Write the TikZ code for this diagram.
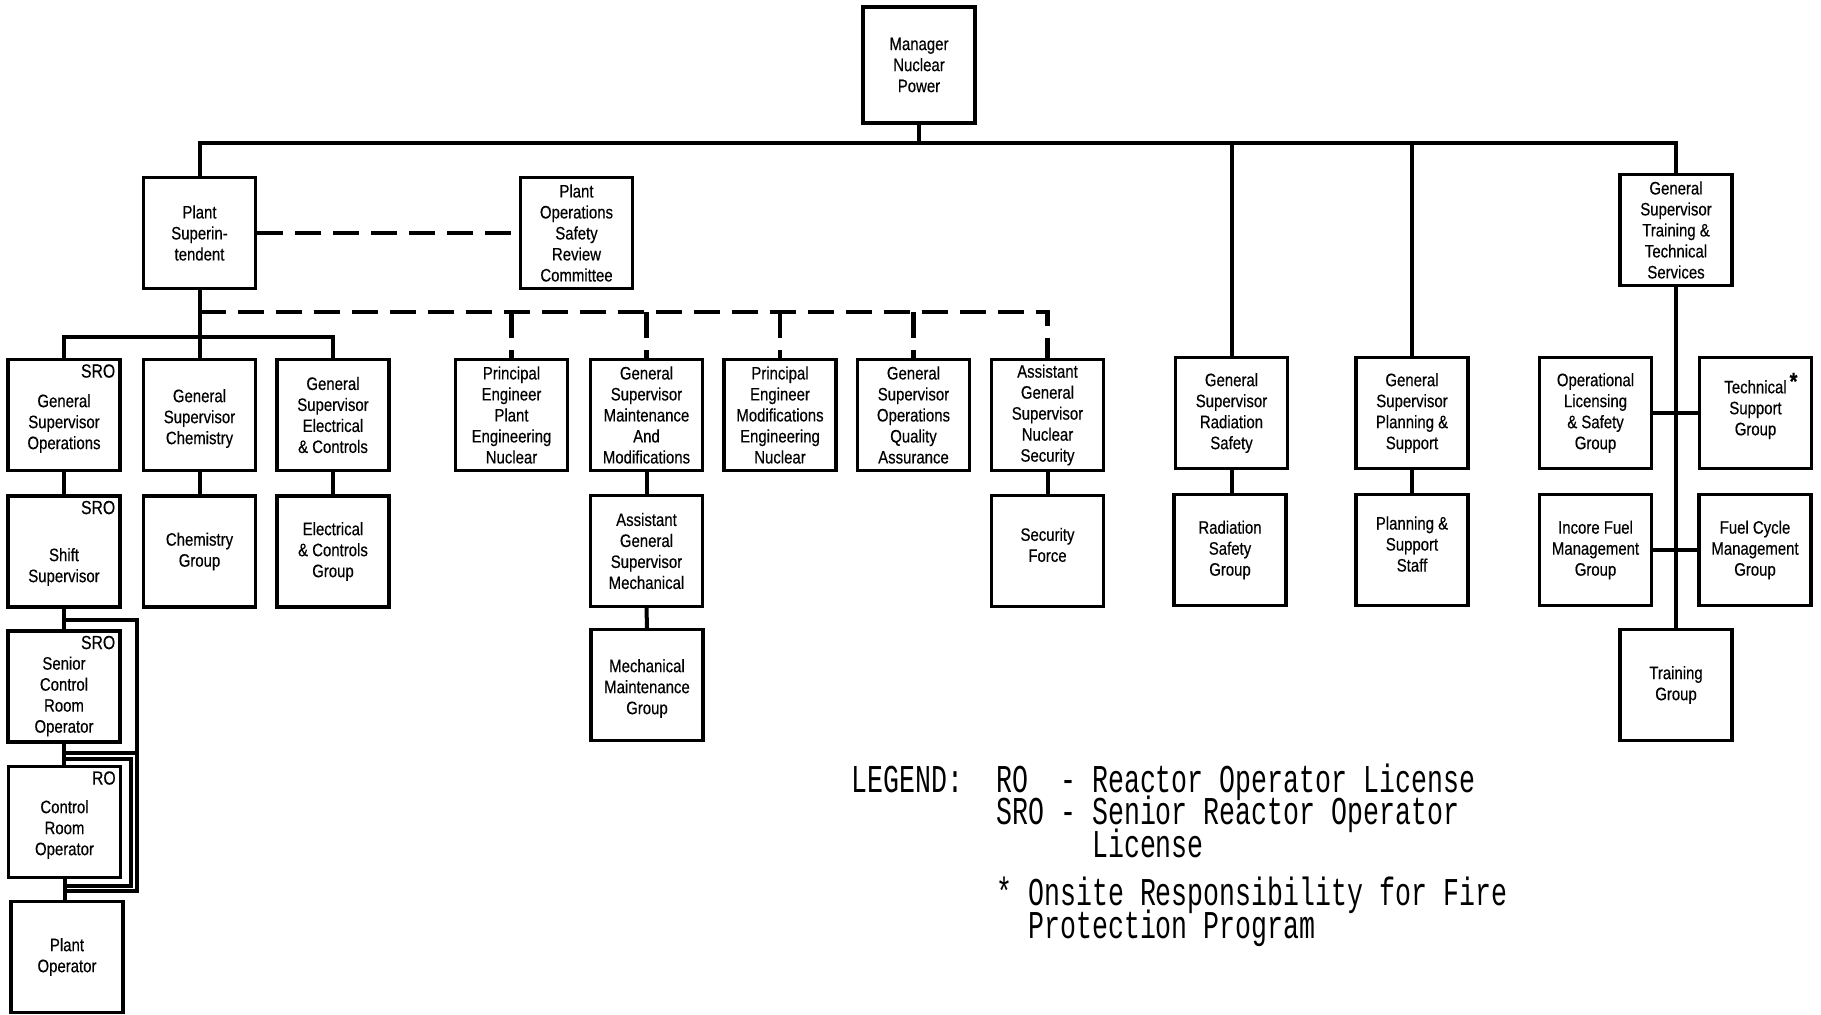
\documentclass[tikz,border=0pt]{standalone}
\usepackage{fontspec}
\setmainfont{Liberation Sans}
\newfontfamily\boxfont[FakeStretch=0.83,FakeBold=0.4]{Liberation Sans}
\newfontfamily\legendfont[FakeStretch=0.675,WordSpace={1,0,0}]{Liberation Mono}
\newcommand\lgdfont{\legendfont\fontsize{19.7}{16.25}\selectfont\lineskiplimit=-30pt\relax}

\begin{document}
\begin{tikzpicture}[x=0.5pt, y=-0.5pt]
	\tikzstyle{Box} = [rectangle, minimum width=56pt, minimum height=55.5pt, inner sep=1pt, align=center, draw=black, line width=1.6pt, font=\boxfont\fontsize{9}{10.5}\selectfont]
	\tikzstyle{Lic} = [anchor=north east, inner sep=3pt, font=\boxfont\fontsize{9.5}{10}\selectfont]
	\tikzstyle{solidlink} = [line width=2pt, black]
	\tikzstyle{dashlink} = [line width=2.4pt, black, dash pattern=on 13pt off 6pt]
	\tikzstyle{Legend} = [anchor=base west, inner sep=0pt, align=left, font=\lgdfont]

	\useasboundingbox (0,0) rectangle (1821,1014);

	% top
	\node (mgr) [Box, minimum height=58pt] at (919,65) {Manager\\Nuclear\\Power};
	\node (ps) [Box] at (199.5,233) {Plant\\Superin-\\tendent};
	\node (posrc) [Box] at (576.5,233) {Plant\\Operations\\Safety\\Review\\Committee};
	\node (gst) [Box] at (1676,230) {General\\Supervisor\\Training \&\\Technical\\Services};

	% operations side
	\node (gso) [Box, label={[Lic]north east:SRO}] at (64,415) {\mbox{}\\[4.5pt]General\\Supervisor\\Operations};
	\node (gsc) [Box] at (199.5,415) {\mbox{}\\[-0.5pt]General\\Supervisor\\Chemistry};
	\node (gse) [Box] at (333,415) {General\\Supervisor\\Electrical\\\& Controls};
	\node (ss) [Box, label={[Lic]north east:SRO}] at (64,551.5) {\mbox{}\\[11.5pt]Shift\\Supervisor};
	\node (cg) [Box] at (199.5,551.5) {Chemistry\\Group};
	\node (ecg) [Box] at (333,551.5) {Electrical\\\& Controls\\Group};
	\node (scro) [Box, label={[Lic]north east:SRO}] at (64,686.5) {\mbox{}\\[6pt]Senior\\Control\\Room\\Operator};
	\node (cro) [Box, label={[Lic]north east:RO}] at (64.5,822) {\mbox{}\\[3.5pt]Control\\Room\\Operator};
	\node (po) [Box] at (67,957) {Plant\\Operator};

	% middle row
	\node (pep) [Box] at (511.5,415) {Principal\\Engineer\\Plant\\Engineering\\Nuclear};
	\node (gsm) [Box] at (646.5,415) {General\\Supervisor\\Maintenance\\And\\Modifications};
	\node (pem) [Box] at (780,415) {Principal\\Engineer\\Modifications\\Engineering\\Nuclear};
	\node (gsq) [Box] at (913.5,415) {General\\Supervisor\\Operations\\Quality\\Assurance};
	\node (agsn) [Box] at (1047.5,415) {Assistant\\General\\Supervisor\\Nuclear\\Security};
	\node (agsm) [Box] at (646.5,551) {Assistant\\General\\Supervisor\\Mechanical};
	\node (mmg) [Box] at (647,685) {\mbox{}\\[-0.5pt]Mechanical\\Maintenance\\Group};
	\node (sf) [Box] at (1047.5,551) {Security\\Force\\[-4.3pt]\mbox{}};

	% right side
	\node (gsr) [Box] at (1231.5,413) {General\\Supervisor\\Radiation\\Safety};
	\node (rsg) [Box] at (1230,550) {Radiation\\Safety\\Group};
	\node (gsp) [Box] at (1412,413) {General\\Supervisor\\Planning \&\\Support};
	\node (pss) [Box] at (1412,550) {Planning \&\\Support\\Staff\\[-4.5pt]\mbox{}};
	\node (olsg) [Box] at (1595.5,413) {Operational\\Licensing\\\& Safety\\Group};
	\node (tsg) [Box] at (1755.5,413) {Technical\rlap{\,\raisebox{0.4ex}{\bfseries\large *}}\\Support\\Group\\[-1.6pt]\mbox{}};
	\node (ifmg) [Box] at (1595.5,550) {Incore Fuel\\Management\\Group};
	\node (fcmg) [Box] at (1755,550) {Fuel Cycle\\Management\\Group};
	\node (tg) [Box] at (1676,685) {Training\\Group};

	% solid lines
	\coordinate (bus) at (919,143);
	\draw [solidlink] (ps.north) |- (bus) -| (gst.north);
	\draw [solidlink] (mgr.south) -- (mgr.south |- bus);
	\draw [solidlink] (gsr.north) -- (gsr.north |- bus);
	\draw [solidlink] (gsp.north) -- (gsp.north |- bus);

	\draw [solidlink] (ps.south) -- (gsc.north);
	\draw [solidlink] (gso.north) -- ++(0,-21) -| (gse.north);
	\draw [solidlink] (gso.south) -- (ss.north);
	\draw [solidlink] (ss.south) -- (scro.north);
	\draw [solidlink] (scro.south) -- (scro.south |- cro.north);
	\draw [solidlink] (cro.south) -- (cro.south |- po.north);
	\draw [solidlink] (gsc.south) -- (cg.north);
	\draw [solidlink] (gse.south) -- (ecg.north);

	\coordinate (lpa) at (64,620);
	\coordinate (lpb) at (64,753);
	\coordinate (lpc) at (64,759);
	\coordinate (lpd) at (64,891);
	\coordinate (lpe) at (64,886);
	\draw [solidlink] (lpa) -- ++(73,0) |- (lpd);
	\draw [solidlink] (lpb) -- ++(73,0);
	\draw [solidlink] (lpc) -- ++(67,0) |- (lpe);

	\draw [solidlink] (gsm.south) -- (agsm.north);
	\draw [solidlink] (agsm.south) -- (mmg.north);
	\draw [solidlink] (agsn.south) -- (sf.north);
	\draw [solidlink] (gsr.south) -- (gsr.south |- rsg.north);
	\draw [solidlink] (gsp.south) -- (pss.north);

	\draw [solidlink] (gst.south) -- (tg.north);
	\draw [solidlink] (olsg.east) -- (tsg.west);
	\draw [solidlink] (ifmg.east) -- (fcmg.west);

	% dashed lines
	\draw [dashlink] (ps.east) -- (posrc.west);
	\coordinate (dbus) at (199.5,312);
	\draw [dashlink] (dbus) -| (agsn.north);
	\foreach \n in {pep, gsm, pem, gsq}
		\draw [dashlink] (\n.north |- dbus) -- (\n.north);

	% legend
	\node (lgd) [Legend] at (851,792) {LEGEND:};
	\node (lgcodes) [Legend] at (996,857) {RO~~- Reactor Operator License\\SRO - Senior Reactor Operator\\\hphantom{SRO - }License};
	\node (lgfire) [Legend] at (996,938) {* Onsite Responsibility for Fire\\\hphantom{* }Protection Program};
\end{tikzpicture}
\end{document}
